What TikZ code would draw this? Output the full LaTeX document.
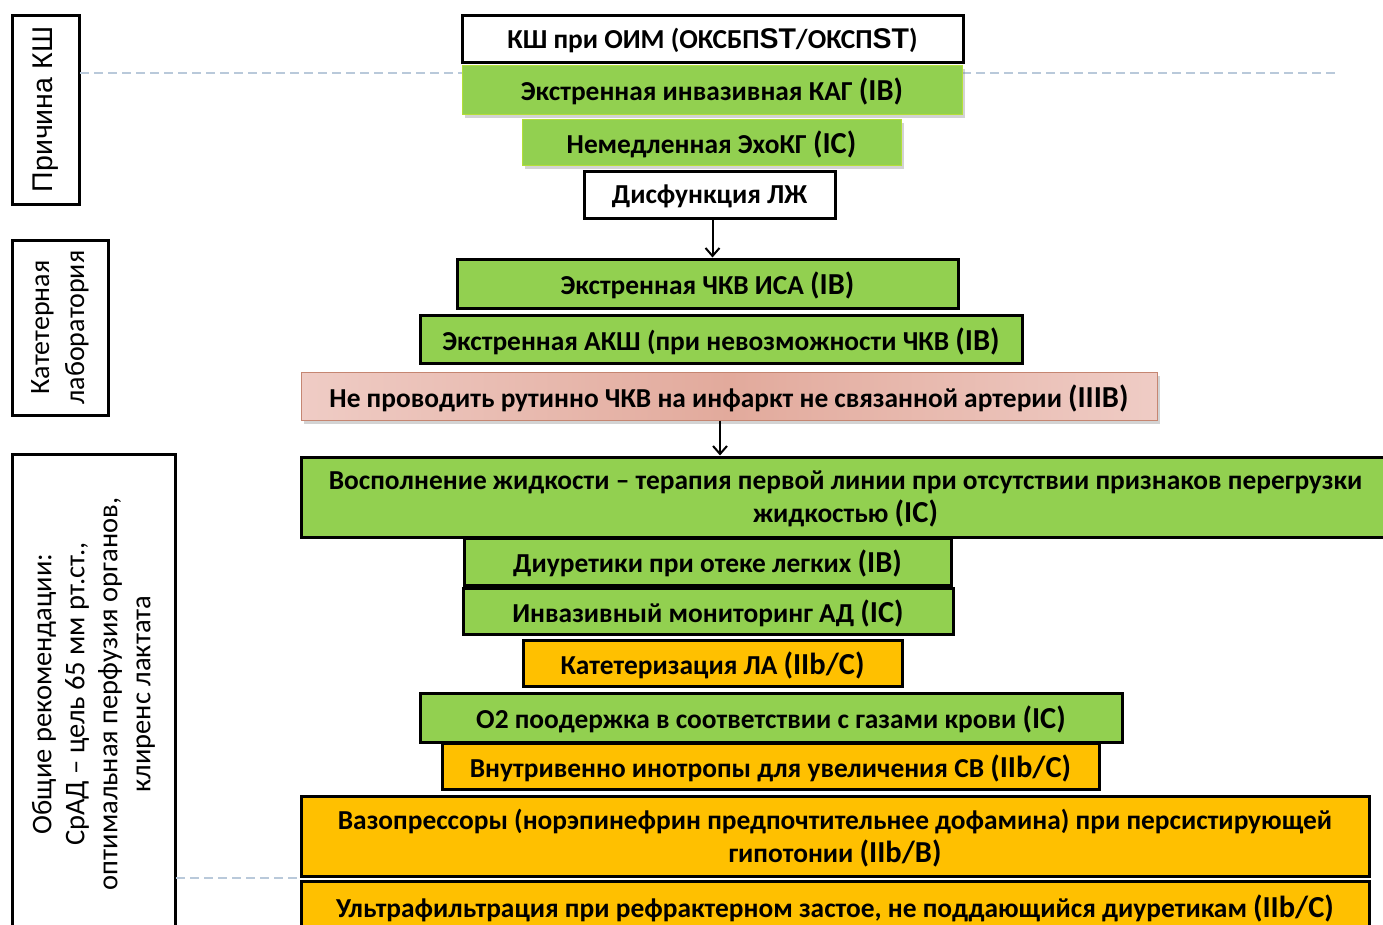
\documentclass[tikz,border=0pt]{standalone}
\usepackage{fontspec}
\setmainfont{Carlito}
\newfontfamily\arialfont{Liberation Sans}
\usetikzlibrary{positioning,arrows.meta,shadows}
\definecolor{recgreen}{HTML}{92D050}
\definecolor{recyellow}{HTML}{FFC000}
\definecolor{pinkedge}{HTML}{EFCCC5}
\definecolor{pinkmid}{HTML}{E2AA9C}
\definecolor{pinkline}{HTML}{C58672}
\definecolor{guideblue}{HTML}{B9C9DA}
\newcommand{\recgrade}[1]{{\fontsize{30.5}{36}\selectfont(#1)}}
\tikzset{
  rec/.style={draw=black,line width=3pt,inner sep=0pt,text depth=0pt,align=center,font=\fontsize{27.4}{33}\selectfont\bfseries},
  recg/.style={rec,fill=recgreen},
  recy/.style={rec,fill=recyellow},
  recw/.style={rec,fill=white},
  soft/.style={line width=1pt,drop shadow={shadow xshift=3pt,shadow yshift=-4pt,opacity=.35}},
  side/.style={draw=black,line width=3pt,rotate=90,align=center,inner sep=0pt,fill=white},
  flow/.style={-{Straight Barb[length=8pt,width=14pt]},line width=2pt,draw=black},
  guide/.style={draw=guideblue,dash pattern=on 9pt off 5pt,line width=1.5pt}
}

\begin{document}
\begin{tikzpicture}[x=1pt,y=-1pt]
\useasboundingbox (0,0) rectangle (1383,924);
\clip (0,0) rectangle (1383,924);
% ESC 2015 cardiogenic shock
\node[side,minimum width=189,minimum height=67,font=\arialfont\fontsize{28.5}{34}\selectfont] (cause) at (45.5,109.5) {Причина КШ};
\node[side,minimum width=175,minimum height=96,font=\fontsize{28}{35}\selectfont] (cathlab) at (60,327.5) {Катетерная\\лаборатория};
\node[side,minimum width=480,minimum height=163,font=\fontsize{28.5}{33}\selectfont] (general) at (93.5,694) {Общие рекомендации:\\СрАД -- цель 65 мм рт.ст.,\\оптимальная перфузия органов,\\клиренс лактата};

\coordinate (g1a) at (80,73);
\coordinate (g1b) at (1337,73);
\coordinate (g2a) at (176,878);
\coordinate (g2b) at (301,878);
\draw[guide] (g1a) -- (g1b);
\draw[guide] (g2a) -- (g2b);

\node[recw,minimum width=501,minimum height=47] (oim) at (712.5,38.5) {КШ при ОИМ (ОКСБП{\arialfont\fontsize{28.5}{33}\selectfont ST}/ОКСП{\arialfont\fontsize{28.5}{33}\selectfont ST})};
\node[recg,soft,draw=recgreen!70!yellow,minimum width=500,minimum height=49] (kag) at (712,89.5) {Экстренная инвазивная КАГ \recgrade{IB}};
\node[recg,soft,draw=recgreen!70!yellow,minimum width=379,minimum height=46] (echo) at (711.5,142) {Немедленная ЭхоКГ \recgrade{IC}};
\node[recw,minimum width=251,minimum height=47] (dysf) at (709.5,194.5) {Дисфункция ЛЖ};

\node[recg,minimum width=501,minimum height=49] (pci) at (707.5,283.5) {Экстренная ЧКВ ИСА \recgrade{IB}};
\node[recg,minimum width=602,minimum height=48] (cabg) at (721,339) {Экстренная АКШ (при невозможности ЧКВ \recgrade{IB}};
\node[rec,soft,draw=pinkline,left color=pinkedge,right color=pinkedge,middle color=pinkmid,minimum width=856,minimum height=48] (nonira) at (729,396) {Не проводить рутинно ЧКВ на инфаркт не связанной артерии \recgrade{IIIB}};

\node[recg,minimum width=1089,minimum height=80] (fluid) at (845.5,497) {Восполнение жидкости -- терапия первой линии при отсутствии признаков перегрузки\\жидкостью \recgrade{IC}};
\node[recg,minimum width=487,minimum height=47] (diur) at (707.5,561.5) {Диуретики при отеке легких \recgrade{IB}};
\node[recg,minimum width=490,minimum height=46] (monit) at (708,611) {Инвазивный мониторинг АД \recgrade{IC}};
\node[recy,minimum width=379,minimum height=46] (pac) at (712.5,663) {Катетеризация ЛА \recgrade{IIb/C}};
\node[recg,minimum width=702,minimum height=49] (oxy) at (771,717.5) {O2 поодержка в соответствии с газами крови \recgrade{IC}};
\node[recy,minimum width=657,minimum height=46] (inotr) at (770.5,766) {Внутривенно инотропы для увеличения СВ \recgrade{IIb/C}};
\node[recy,minimum width=1068,minimum height=80] (vaso) at (835,836) {Вазопрессоры (норэпинефрин предпочтительнее дофамина) при персистирующей\\гипотонии \recgrade{IIb/B}};
\node[recy,minimum width=1068,minimum height=50] (ultra) at (835,906) {Ультрафильтрация при рефрактерном застое, не поддающийся диуретикам \recgrade{IIb/C}};

\draw[flow] ([xshift=3]dysf.south) -- ([xshift=3]dysf.south |- pci.north);
\draw[flow] ([xshift=-9]nonira.south) -- ([xshift=-9]nonira.south |- fluid.north);
\end{tikzpicture}
\end{document}
